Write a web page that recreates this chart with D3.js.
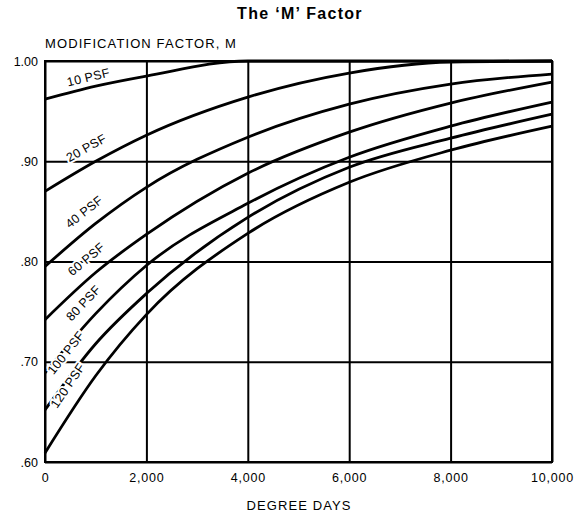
<!DOCTYPE html>
<html>
<head>
<meta charset="utf-8">
<script src="https://cdn.jsdelivr.net/npm/d3@7/dist/d3.min.js"></script>
<style>
  body { margin: 0; background: #fff; }
  svg { display: block; font-family: "Liberation Sans", Arial, Helvetica, sans-serif; }
</style>
</head>
<body>
<svg id="chart" width="581" height="516"></svg>
<script>
// degree days along the bottom, M factor for each roof load
var degreeDays = [0, 1000, 2000, 4000, 6000, 8000, 10000];
var psf10  = [0.962, 0.975, 0.985, 1.000, 1.000, 1.000, 1.000];
var psf20  = [0.870, 0.900, 0.926, 0.964, 0.988, 0.999, 1.000];
var psf40  = [0.795, 0.838, 0.874, 0.924, 0.957, 0.977, 0.987];
var psf60  = [0.742, 0.789, 0.827, 0.888, 0.929, 0.958, 0.979];
var psf80  = [0.689, 0.748, 0.796, 0.858, 0.904, 0.935, 0.959];
var psf100 = [0.652, 0.718, 0.768, 0.844, 0.894, 0.923, 0.947];
var psf120 = [0.609, 0.686, 0.747, 0.828, 0.879, 0.911, 0.935];
var seriesNames = ["10 PSF", "20 PSF", "40 PSF", "60 PSF", "80 PSF", "100 PSF", "120 PSF"];

var xTicks = [0, 2000, 4000, 6000, 8000, 10000];
var xTickLabels = ["0", "2,000", "4,000", "6,000", "8,000", "10,000"];
var yTicks = [1.00, 0.90, 0.80, 0.70, 0.60];
var yTickLabels = ["1.00", ".90", ".80", ".70", ".60"];

var series = [psf10, psf20, psf40, psf60, psf80, psf100, psf120];

var svg = d3.select("#chart"),
    margin = {top: 61, right: 29, bottom: 54, left: 45},
    width = +svg.attr("width") - margin.left - margin.right,
    height = +svg.attr("height") - margin.top - margin.bottom,
    g = svg.append("g").attr("transform", "translate(" + margin.left + "," + margin.top + ")");

var x = d3.scaleLinear().domain([0, 10000]).range([0, width]);
var y = d3.scaleLinear().domain([0.60, 1.00]).range([height, 0]);

// titles
svg.append("text")
  .attr("x", 300).attr("y", 19)
  .attr("text-anchor", "middle")
  .attr("font-size", 16).attr("font-weight", "bold").attr("letter-spacing", 1.3)
  .text("The \u2018M\u2019 Factor");

svg.append("text")
  .attr("x", margin.left).attr("y", 48)
  .attr("font-size", 13).attr("letter-spacing", 1.1)
  .text("MODIFICATION FACTOR, M");

svg.append("text")
  .attr("x", 299).attr("y", 510)
  .attr("text-anchor", "middle")
  .attr("font-size", 13).attr("letter-spacing", 1.1)
  .text("DEGREE DAYS");

// grid
g.append("g")
  .attr("class", "grid")
  .call(d3.axisLeft(y).tickValues(yTicks).tickSize(-width).tickFormat(""))
  .call(function(s) { s.select(".domain").remove(); s.selectAll("line").attr("stroke", "#000").attr("stroke-width", 2); });

g.append("g")
  .attr("class", "grid")
  .attr("transform", "translate(0," + height + ")")
  .call(d3.axisBottom(x).tickValues(xTicks).tickSize(-height).tickFormat(""))
  .call(function(s) { s.select(".domain").remove(); s.selectAll("line").attr("stroke", "#000").attr("stroke-width", 2); });

g.append("rect")
  .attr("width", width).attr("height", height)
  .attr("fill", "none").attr("stroke", "#000").attr("stroke-width", 2);

// tick labels
g.append("g")
  .call(d3.axisLeft(y).tickValues(yTicks).tickSize(0).tickPadding(7)
    .tickFormat(function(d, i) { return yTickLabels[i]; }))
  .call(function(s) { s.select(".domain").remove(); s.selectAll("text").attr("font-size", 12.5).attr("font-family", null).attr("fill", "#000"); });

g.append("g")
  .attr("transform", "translate(0," + height + ")")
  .call(d3.axisBottom(x).tickValues(xTicks).tickSize(0).tickPadding(11)
    .tickFormat(function(d, i) { return xTickLabels[i]; }))
  .call(function(s) { s.select(".domain").remove(); s.selectAll("text").attr("font-size", 12.5).attr("letter-spacing", 0.8).attr("font-family", null).attr("fill", "#000"); });

// curves
var line = d3.line()
  .x(function(d, i) { return x(degreeDays[i]); })
  .y(function(d) { return y(d); })
  .curve(d3.curveMonotoneX);

var paths = g.append("g")
  .selectAll("path")
  .data(series)
  .enter().append("path")
    .attr("d", line)
    .attr("fill", "none")
    .attr("stroke", "#000")
    .attr("stroke-width", 2.8);

// labels sit along their curve
var labelAt = [900, 970, 970, 1020, 990, 680, 730];
var labelOff = [6, 12, 12, 12, 12, 13, 13];

function pointAtX(node, px) {
  var lo = 0, hi = node.getTotalLength();
  for (var k = 0; k < 40; k++) {
    var mid = (lo + hi) / 2;
    if (node.getPointAtLength(mid).x < px) lo = mid; else hi = mid;
  }
  return lo;
}

paths.each(function(d, i) {
  var L = pointAtX(this, x(labelAt[i]));
  var p = this.getPointAtLength(L),
      p1 = this.getPointAtLength(Math.max(0, L - 5)),
      p2 = this.getPointAtLength(L + 5);
  var ang = Math.atan2(p2.y - p1.y, p2.x - p1.x) * 180 / Math.PI;
  g.append("text")
    .attr("transform", "translate(" + p.x + "," + p.y + ") rotate(" + ang + ")")
    .attr("y", -labelOff[i])
    .attr("text-anchor", "middle")
    .attr("font-size", 12.5).attr("letter-spacing", 0.3)
    .attr("stroke", "#fff").attr("stroke-width", 4).attr("paint-order", "stroke")
    .attr("fill", "#000")
    .text(seriesNames[i]);
});
</script>
</body>
</html>
